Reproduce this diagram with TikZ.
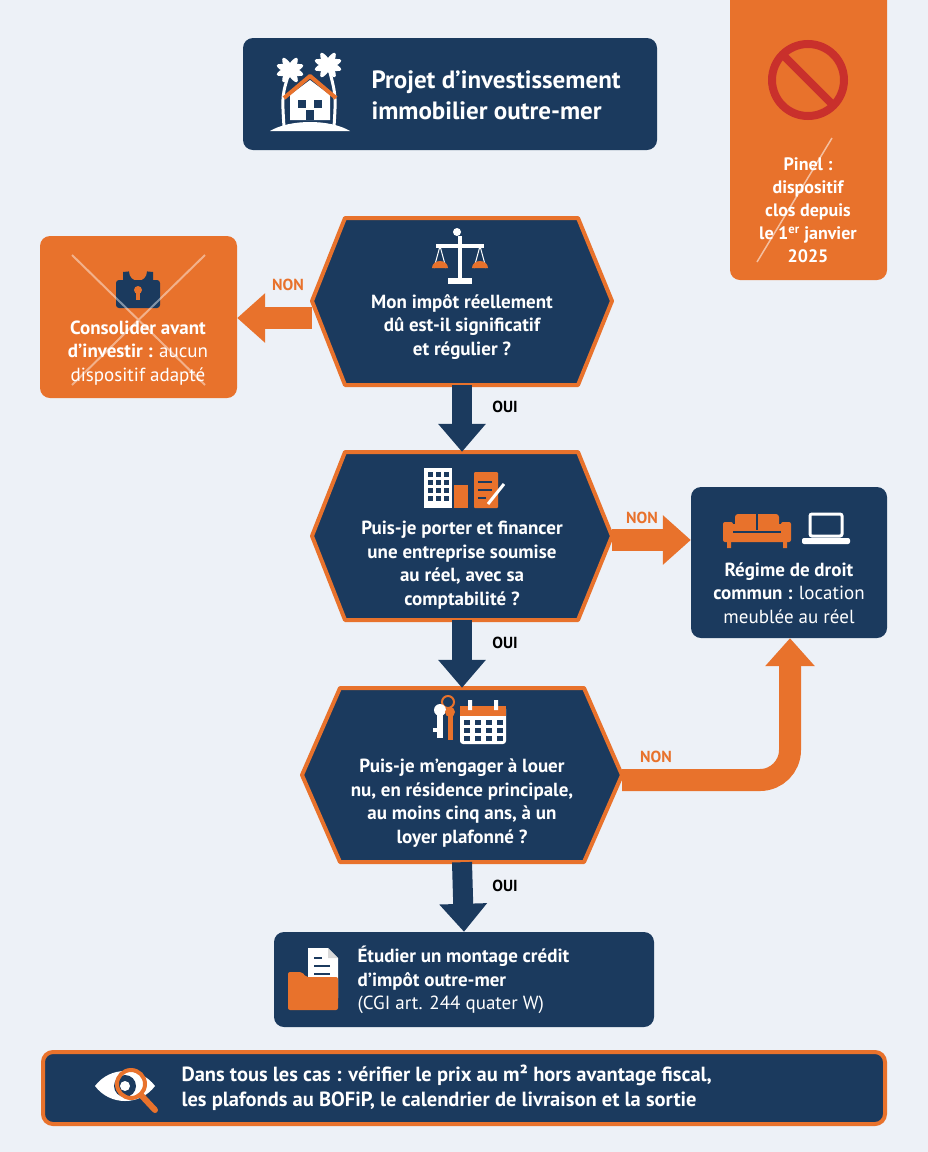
\documentclass[tikz,border=0pt]{standalone}
\usepackage{fontspec}
\setmainfont{PT Sans}
\usetikzlibrary{arrows.meta}
\definecolor{navy}{HTML}{1B3A5E}
\definecolor{org}{HTML}{E8722C}
\definecolor{bg}{HTML}{EDF1F7}
\definecolor{red}{HTML}{C9302C}
\begin{document}
\begin{tikzpicture}[x=1pt,y=-1pt,
  nbox/.style={fill=navy,rounded corners=10},
  obox/.style={fill=org,rounded corners=10},
  hex/.style={fill=navy,draw=org,line width=4,line join=round},
  anchorbox/.style={draw=none,inner sep=0,minimum width=#1},
  txt/.style={text=white,font=\bfseries\fontsize{19}{23.5}\selectfont,align=center},
  lbl/.style={font=\bfseries\fontsize{16}{18}\selectfont},
  narr/.style={draw=navy,line width=20,-{Triangle[width=46pt,length=28pt]}},
  oarr/.style={draw=org,line width=22,-{Triangle[width=48pt,length=28pt]}},
  ic/.style={fill=white,draw=none},
]
\fill[bg] (0,0) rectangle (928,1152);
\useasboundingbox (0,0) rectangle (928,1152);

% ---------- top box
\node[nbox,minimum width=414,minimum height=112] (top) at (450,94) {};
\node[text=white,font=\bfseries\fontsize{25}{31}\selectfont,align=left,anchor=west] (toptxt) at (368,95) {Projet d'investissement\\immobilier outre-mer};
% palm + house icon
\begin{scope}[shift={(310,95)}]
  \draw[white,line width=3] (-26,32) .. controls (-28,0) .. (-20,-25);
  \draw[white,line width=3] (24,32) .. controls (26,0) .. (18,-30);
  \foreach \a in {-160,-120,-60,-20}{\fill[white,rotate around={\a:(-20,-25)}] (-20,-25) ellipse (14 and 4);}
  \foreach \a in {-160,-120,-60,-20}{\fill[white,rotate around={\a:(18,-30)}] (18,-30) ellipse (14 and 4);}
  \fill[white] (-20,25) -- (-20,0) -- (0,-15) -- (20,0) -- (20,25) -- cycle;
  \draw[org,line width=4,line join=round] (-26,3) -- (0,-19) -- (26,3);
  \fill[navy] (-12,5) rectangle (-4,13); \fill[navy] (4,5) rectangle (12,13); \fill[navy] (-4,15) rectangle (4,25);
  \fill[white] (-40,36) .. controls (-20,24) and (20,24) .. (40,36) -- cycle;
\end{scope}

% ---------- Pinel box
\node[obox,minimum width=157,minimum height=300] (pinel) at (808.5,130) {};
\draw[red,line width=8] (808,80) circle (36);
\draw[red,line width=8] (783,55) -- (833,105);
\node[txt,font=\bfseries\fontsize{18}{23}\selectfont] (pineltxt) at (808,210) {Pinel :\\dispositif\\clos depuis\\le 1\textsuperscript{er} janvier\\2025};
\draw[white,opacity=.55,line width=1.5] (832,138) -- (757,262);

% ---------- hex 1
\node[anchorbox=300,minimum height=167] (h1) at (462,301.5) {};
\draw[hex] (345,218) -- (578,218) -- (612,301) -- (578,385) -- (345,385) -- (312,301) -- cycle;
\node[txt] (h1txt) at (462,327) {Mon impôt réellement\\dû est-il significatif\\et régulier ?};
\begin{scope}[shift={(460,258)}]
  \fill[white] (-2,-22) rectangle (2,22);
  \fill[white] (-24,-14) rectangle (24,-10);
  \fill[white] (-3,-26) circle (4);
  \fill[white] (-12,20) rectangle (12,26);
  \draw[white,line width=1] (-20,-12) -- (-26,10) (-20,-12) -- (-14,10) (20,-12) -- (14,10) (20,-12) -- (26,10);
  \fill[org] (-28,10) arc (180:360:8 and 7) -- cycle;
  \fill[org] (12,10) arc (180:360:8 and 7) -- cycle;
\end{scope}

% ---------- left box
\node[obox,minimum width=197,minimum height=162] (left) at (138.5,317) {};
\begin{scope}[shift={(138,282)}]
  \draw[navy,line width=6] (-12,0) -- (-12,-10) arc (180:0:12) -- (12,0);
  \fill[navy,rounded corners=3] (-22,-2) rectangle (22,26);
  \fill[org] (0,8) circle (4); \fill[org] (-2,8) rectangle (2,18);
\end{scope}
\node[txt] (lefttxt) at (138,353) {Consolider avant\\d'investir : \mdseries aucun\\\mdseries dispositif adapté};
\draw[white,opacity=.45,line width=2] (72,255) -- (205,385) (205,255) -- (72,385);

\draw[oarr] (h1.west |- 0,318) -- (left.east |- 0,318);
\node[lbl,text=org] (non1) at (288,285) {NON};

% ---------- hex 2
\node[anchorbox=300,minimum height=168] (h2) at (462,536) {};
\draw[hex] (345,452) -- (578,452) -- (612,536) -- (578,620) -- (345,620) -- (312,536) -- cycle;
\node[txt] (h2txt) at (462,565) {Puis-je porter et financer\\une entreprise soumise\\au réel, avec sa\\comptabilité ?};
\begin{scope}[shift={(462,490)}]
  \fill[white] (-38,-22) rectangle (-10,18);
  \foreach \i in {-34,-26,-18}{\foreach \j in {-18,-10,-2,6}{\fill[navy] (\i,\j) rectangle (\i+5,\j+5);}}
  \fill[org] (-8,-5) rectangle (6,18);
  \fill[org,rounded corners=1] (12,-18) rectangle (36,18);
  \draw[navy,line width=1.5] (16,-8) -- (30,-8) (16,0) -- (30,0) (16,8) -- (24,8);
  \draw[white,line width=3] (26,14) -- (42,-6);
\end{scope}

\draw[narr] (h1.south) -- (h2.north);
\node[lbl] (oui1) at (505,407) {OUI};

% ---------- right box
\node[nbox,minimum width=196,minimum height=151] (right) at (789,562.5) {};
\begin{scope}[shift={(757,530)}]
  \fill[org,rounded corners=3] (-30,-6) rectangle (30,12);
  \fill[org,rounded corners=3] (-22,-16) rectangle (22,0);
  \fill[org,rounded corners=2] (-34,-8) rectangle (-24,12);
  \fill[org,rounded corners=2] (24,-8) rectangle (34,12);
  \draw[navy,line width=1.5] (0,-16) -- (0,0) (-24,2) -- (24,2);
  \fill[org] (-30,12) rectangle (-26,18) (26,12) rectangle (30,18);
\end{scope}
\begin{scope}[shift={(826,528)}]
  \draw[white,line width=3,rounded corners=2] (-16,-14) rectangle (16,8);
  \fill[white,rounded corners=2] (-24,10) rectangle (24,16);
\end{scope}
\node[txt] (righttxt) at (789,593) {Régime de droit\\commun : \mdseries location\\\mdseries meublée au réel};

\draw[oarr] (h2.east |- 0,540) -- (right.west |- 0,540);
\node[lbl,text=org] (non2) at (642,518) {NON};

% ---------- hex 3
\node[anchorbox=320,minimum height=174] (h3) at (462,775) {};
\draw[hex] (340,688) -- (584,688) -- (622,775) -- (584,862) -- (340,862) -- (302,775) -- cycle;
\node[txt] (h3txt) at (462,803) {Puis-je m'engager à louer\\nu, en résidence principale,\\au moins cinq ans, à un\\loyer plafonné ?};
\begin{scope}[shift={(462,722)}]
  \draw[org,line width=2] (-14,-20) circle (6);
  \fill[white] (-22,-12) circle (6); \fill[white] (-25,-8) rectangle (-19,16); \fill[white] (-25,6) rectangle (-29,10);
  \fill[org] (-12,-10) circle (5); \fill[org] (-14,-8) rectangle (-9,18);
  \fill[white,rounded corners=3] (-2,-16) rectangle (44,22);
  \fill[org] (-2,-16) rectangle (44,-6);
  \fill[white] (6,-22) rectangle (10,-12) (32,-22) rectangle (36,-12);
  \foreach \i in {3,14,25,36}{\foreach \j in {-2,6,14}{\fill[navy] (\i-1,\j) rectangle (\i+5,\j+5);}}
\end{scope}

\draw[narr] (h2.south) -- (h3.north);
\node[lbl] (oui2) at (505,643) {OUI};

\coordinate (cornerpt) at (790,780);
\draw[oarr,rounded corners=30] (h3.east |- 0,780) -- (cornerpt) -- (right.south -| cornerpt);
\node[lbl,text=org] (non3) at (656,757) {NON};

% ---------- final box
\node[nbox,minimum width=380,minimum height=95] (fin) at (464,979.5) {};
\begin{scope}[shift={(318,980)}]
  \fill[white] (-10,-32) -- (10,-32) -- (20,-22) -- (20,18) -- (-10,18) -- cycle;
  \fill[gray!30] (10,-32) -- (10,-22) -- (20,-22) -- cycle;
  \draw[navy,line width=2] (-4,-22) -- (4,-22) (-4,-14) -- (12,-14) (-4,-6) -- (12,-6);
  \fill[org,rounded corners=2] (-30,-8) -- (-16,-8) -- (-12,-3) -- (20,-3) -- (20,30) -- (-30,30) -- cycle;
\end{scope}
\node[text=white,font=\bfseries\fontsize{19}{23.5}\selectfont,align=left,anchor=west] (fintxt) at (354,980) {Étudier un montage crédit\\d'impôt outre-mer\\\mdseries (CGI art. 244 quater W)};

\draw[narr] (h3.south) -- (fin.north);
\node[lbl] (oui3) at (505,886) {OUI};

% ---------- bottom box
\node[nbox,draw=org,line width=4,minimum width=842,minimum height=72] (bot) at (464,1088) {};
\begin{scope}[shift={(125,1086)}]
  \fill[white] (-30,0) .. controls (-15,-20) and (15,-20) .. (30,0) .. controls (15,20) and (-15,20) .. (-30,0) -- cycle;
  \fill[navy] (0,0) circle (11);
  \fill[white] (0,0) circle (5);
  \draw[org,line width=4] (6,-2) circle (14);
  \draw[org,line width=6,line cap=round] (16,9) -- (30,24);
\end{scope}
\node[text=white,font=\bfseries\fontsize{20.5}{25}\selectfont,align=left,anchor=west] (bottxt) at (178,1088) {Dans tous les cas : vérifier le prix au m² hors avantage fiscal,\\les plafonds au BOFiP, le calendrier de livraison et la sortie};
\end{tikzpicture}
\end{document}
